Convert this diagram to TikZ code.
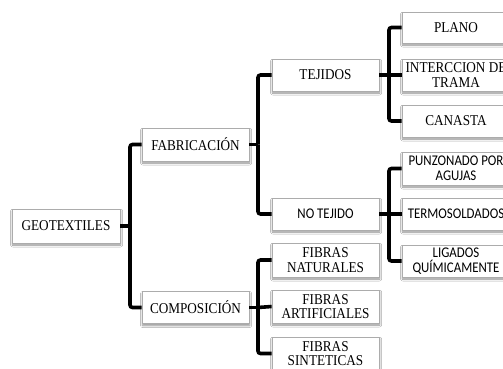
\documentclass[tikz,border=0pt]{standalone}
\usepackage{fontspec}
\setmainfont{Liberation Serif}[FakeStretch=0.88]
\newfontfamily\calfont{Carlito}[FakeStretch=0.87]
\usetikzlibrary{shadows.blur}
\begin{document}
\begin{tikzpicture}[x=1pt,y=-1pt,
  box/.style={draw=gray!65, line width=0.8pt, fill=white, minimum width=107pt, minimum height=32pt,
    inner sep=1pt, align=center, font=\fontsize{15}{14.5}\selectfont,
    blur shadow={shadow xshift=0.6pt, shadow yshift=-2pt, shadow blur steps=6, shadow opacity=45, shadow blur radius=2pt}},
  sbox/.style={box, font=\calfont\fontsize{14.8}{14.5}\selectfont},
  conn/.style={line width=3.6pt, black},
  elbow/.style={conn, rounded corners=2.5pt}]
\clip (0,0) rectangle (503,369);
\fill[white] (0,0) rectangle (503,369);
% nodes
\node[box, minimum width=108pt, minimum height=34pt] (geo) at (66,226) {GEOTEXTILES};
\node[box, minimum height=33pt] (fab) at (195.5,144.5) {FABRICACIÓN};
\node[box, minimum height=32pt] (comp) at (195.5,307.5) {COMPOSICIÓN};
\node[box] (tej) at (325.5,75) {TEJIDOS};
\node[sbox] (notej) at (325.5,214) {NO TEJIDO};
\node[box, minimum width=108pt, minimum height=31pt] (plano) at (456,27.5) {PLANO};
\node[box, minimum width=108pt] (inter) at (456,75) {INTERCCION DE\\TRAMA};
\node[box, minimum width=108pt] (canasta) at (456,121) {CANASTA};
\node[sbox, minimum width=108pt, minimum height=33pt] (punz) at (456,168.5) {PUNZONADO POR\\AGUJAS};
\node[sbox, minimum width=108pt] (termo) at (456,214) {TERMOSOLDADOS};
\node[sbox, minimum width=108pt] (lig) at (456,261) {LIGADOS\\QUÍMICAMENTE};
\node[box, minimum height=34pt] (fnat) at (325.5,260) {FIBRAS\\NATURALES};
\node[box, minimum height=33pt] (fart) at (325.5,306.5) {FIBRAS\\ARTIFICIALES};
\node[box, minimum height=33pt] (fsin) at (325.5,353.5) {FIBRAS\\SINTETICAS};
% bracket junctions
\coordinate (b1) at (130,226);
\coordinate (b2) at (258,144.5);
\coordinate (b3) at (258,307.5);
\coordinate (b4) at (389,75);
\coordinate (b5) at (389,214);
% connectors
\draw[conn] (geo.east) -- (b1);
\draw[elbow] (b1) |- (fab.west);
\draw[elbow] (b1) |- (comp.west);
\draw[conn] (fab.east) -- (b2);
\draw[elbow] (b2) |- (tej.west);
\draw[elbow] (b2) |- (notej.west);
\draw[conn] (comp.east) -- (b3);
\draw[elbow] (b3) |- (fnat.west);
\draw[conn] (b3) -- (fart.west);
\draw[elbow] (b3) |- (fsin.west);
\draw[conn] (tej.east) -- (b4);
\draw[elbow] (b4) |- (plano.west);
\draw[conn] (b4) -- (inter.west);
\draw[elbow] (b4) |- (canasta.west);
\draw[conn] (notej.east) -- (b5);
\draw[elbow] (b5) |- (punz.west);
\draw[conn] (b5) -- (termo.west);
\draw[elbow] (b5) |- (lig.west);
\end{tikzpicture}
\end{document}
